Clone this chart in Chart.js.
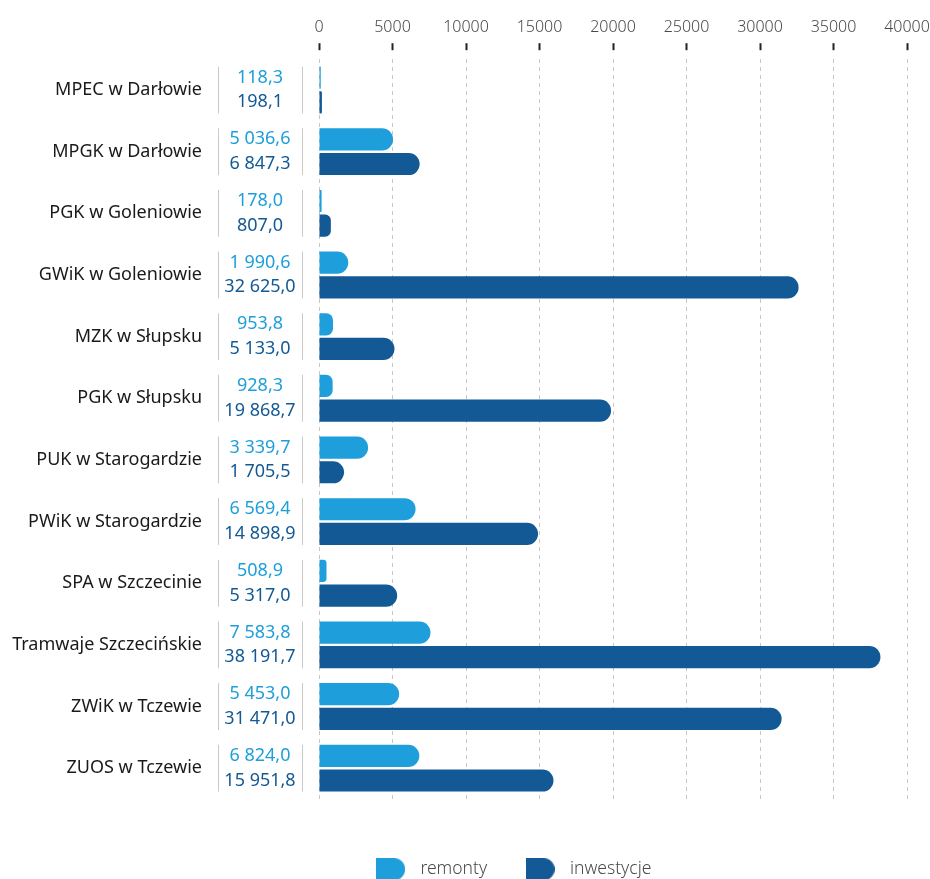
<!DOCTYPE html>
<html lang="pl">
<head>
  <meta charset="utf-8">
  <title>Remonty i inwestycje</title>
  <script src="https://cdn.jsdelivr.net/npm/chart.js"></script>
  <style>
    * { box-sizing: border-box; margin: 0; padding: 0; }
    html, body { background: #ffffff; }
    #wrap { width: 930px; height: 879px; }
  </style>
</head>
<body>
  <div id="wrap"><canvas id="chart" width="930" height="879"></canvas></div>
  <script>
    // Data
    const companies = [
      'MPEC w Darłowie', 'MPGK w Darłowie', 'PGK w Goleniowie', 'GWiK w Goleniowie',
      'MZK w Słupsku', 'PGK w Słupsku', 'PUK w Starogardzie', 'PWiK w Starogardzie',
      'SPA w Szczecinie', 'Tramwaje Szczecińskie', 'ZWiK w Tczewie', 'ZUOS w Tczewie'
    ];
    const remonty = [118.3, 5036.6, 178.0, 1990.6, 953.8, 928.3, 3339.7, 6569.4, 508.9, 7583.8, 5453.0, 6824.0];
    const inwestycje = [198.1, 6847.3, 807.0, 32625.0, 5133.0, 19868.7, 1705.5, 14898.9, 5317.0, 38191.7, 31471.0, 15951.8];
    const xTickValues = [0, 5000, 10000, 15000, 20000, 25000, 30000, 35000, 40000];

    const colRemonty = '#1e9fdb';
    const colInwest = '#135995';
    Chart.defaults.font.family = "'Noto Sans', sans-serif";

    // 5036.6 -> "5 036,6"
    function fmtPL(v) {
      const [i, d] = v.toFixed(1).split('.');
      return i.replace(/\B(?=(\d{3})+(?!\d))/g, ' ') + ',' + d;
    }

    // legend swatch: flat on the left, round on the right
    function swatch(color) {
      const c = document.createElement('canvas');
      c.width = 29; c.height = 22;
      const g = c.getContext('2d');
      g.fillStyle = color;
      g.beginPath();
      g.moveTo(0, 0);
      g.lineTo(18, 0);
      g.arc(18, 11, 11, -Math.PI / 2, Math.PI / 2);
      g.lineTo(0, 22);
      g.closePath();
      g.fill();
      return c;
    }

    // value column between company names and bars
    const valueColumn = {
      id: 'valueColumn',
      afterDatasetsDraw(chart) {
        const { ctx, chartArea } = chart;
        const light = chart.getDatasetMeta(0).data;
        const dark = chart.getDatasetMeta(1).data;
        const xText = chartArea.left - 59;
        ctx.save();
        ctx.font = "18px 'Noto Sans', sans-serif";
        ctx.textAlign = 'center';
        ctx.textBaseline = 'middle';
        ctx.strokeStyle = '#c9c9c9';
        ctx.lineWidth = 1;
        light.forEach((bar, i) => {
          const top = bar.y - bar.height / 2;
          const bottom = dark[i].y + dark[i].height / 2;
          ctx.beginPath();
          [chartArea.left - 101, chartArea.left - 17].forEach(x => {
            ctx.moveTo(Math.round(x) + 0.5, top);
            ctx.lineTo(Math.round(x) + 0.5, bottom);
          });
          ctx.stroke();
          ctx.fillStyle = colRemonty;
          ctx.fillText(fmtPL(remonty[i]), xText, bar.y);
          ctx.fillStyle = colInwest;
          ctx.fillText(fmtPL(inwestycje[i]), xText, dark[i].y);
        });
        ctx.restore();
      }
    };

    // move legend right and down, like in the original layout
    const legendNudge = {
      id: 'legendNudge',
      afterLayout(chart) {
        const lg = chart.legend;
        lg.left += 57; lg.right += 57;
        lg.top += 9; lg.bottom += 9;
      }
    };

    const barStyle = { borderRadius: 11, borderSkipped: 'start', borderWidth: 0, categoryPercentage: 0.8, barPercentage: 0.9 };

    new Chart(document.getElementById('chart'), {
      type: 'bar',
      data: {
        labels: companies,
        datasets: [
          { label: 'remonty', data: remonty, backgroundColor: colRemonty, pointStyle: swatch(colRemonty), ...barStyle },
          { label: 'inwestycje', data: inwestycje, backgroundColor: colInwest, pointStyle: swatch(colInwest), ...barStyle }
        ]
      },
      options: {
        indexAxis: 'y',
        responsive: false,
        animation: false,
        layout: { padding: { top: 12, right: 23, bottom: 0, left: 0 } },
        scales: {
          x: {
            position: 'top',
            min: 0,
            max: 40000,
            afterBuildTicks: s => { s.ticks = xTickValues.map(v => ({ value: v })); },
            afterFit: s => { s.paddingLeft = 0; s.paddingRight = 0; },
            border: { display: false, dash: [4, 4] },
            grid: { color: '#c6c6c6', lineWidth: 1, tickColor: '#222', tickWidth: 2, tickLength: 16, tickBorderDash: [7, 40] },
            ticks: { padding: 6, color: '#4a4a4a', font: { size: 16, weight: 300 }, callback: v => String(v) }
          },
          y: {
            afterFit: s => { s.width = 319; s.paddingTop = 0; s.paddingBottom = 0; },
            grid: { display: false, drawTicks: false },
            border: { display: false },
            ticks: { padding: 117, color: '#1a1a1a', font: { size: 18 } }
          }
        },
        plugins: {
          tooltip: { enabled: false },
          legend: {
            position: 'bottom',
            title: { display: true, text: '', font: { size: 10 }, padding: { top: 8.5, bottom: 0 } },
            labels: {
              usePointStyle: true, pointStyleWidth: 42, padding: 32,
              color: '#4a4a4a', font: { size: 17.5, weight: 300 }
            }
          }
        }
      },
      plugins: [valueColumn, legendNudge]
    });
  </script>
</body>
</html>
